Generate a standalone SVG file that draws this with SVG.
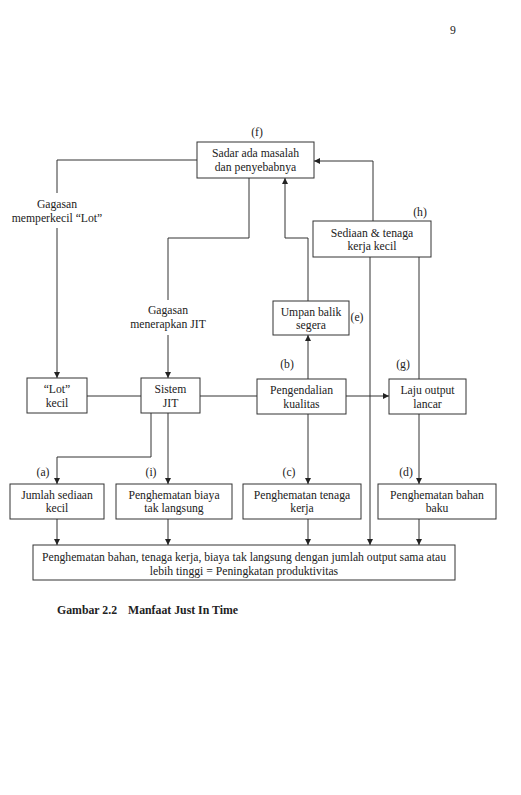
<svg xmlns="http://www.w3.org/2000/svg" width="521" height="795" viewBox="0 0 521 795">
<style>
text{font-family:"Liberation Serif","Times New Roman",serif;font-size:11.7px;fill:#222;text-anchor:middle}
.box{fill:#fff;stroke:#333;stroke-width:1}
.c{fill:none;stroke:#333;stroke-width:1}
.a{marker-end:url(#ar)}
.cap{font-weight:bold;font-size:11.8px;text-anchor:start}
</style>
<defs>
<marker id="ar" markerUnits="userSpaceOnUse" markerWidth="8" markerHeight="8" refX="6" refY="3" orient="auto">
<path d="M0,0 L6,3 L0,6 Z" fill="#222"/>
</marker>
</defs>
<rect width="521" height="795" fill="#fff"/>
<text x="453" y="34">9</text>
<g id="connectors">
<polyline class="c" points="197,160 57,160 57,193"/>
<polyline class="c a" points="57,228 57,378"/>
<polyline class="c" points="249,178 249,238 168,238 168,300"/>
<polyline class="c a" points="168,335 168,378"/>
<line class="c" x1="87" y1="396" x2="141" y2="396"/>
<line class="c" x1="200" y1="396" x2="257" y2="396"/>
<line class="c a" x1="346" y1="396" x2="389" y2="396"/>
<line class="c a" x1="308" y1="379" x2="308" y2="335"/>
<polyline class="c a" points="308,301 308,238 285,238 285,178"/>
<polyline class="c a" points="373,221 373,161 314,161"/>
<line class="c" x1="419" y1="257" x2="419" y2="379"/>
<line class="c a" x1="370" y1="257" x2="370" y2="545"/>
<line class="c a" x1="419" y1="414" x2="419" y2="484"/>
<line class="c a" x1="308" y1="414" x2="308" y2="484"/>
<polyline class="c a" points="151,413 151,457 57,457 57,484"/>
<line class="c a" x1="168" y1="413" x2="168" y2="484"/>
<line class="c a" x1="57" y1="519" x2="57" y2="545"/>
<line class="c a" x1="168" y1="519" x2="168" y2="545"/>
<line class="c a" x1="308" y1="519" x2="308" y2="545"/>
<line class="c a" x1="419" y1="519" x2="419" y2="545"/>
</g>
<g id="label-lot"><text x="57" y="208">Gagasan</text><text x="57" y="222">memperkecil “Lot”</text></g>
<g id="label-jit"><text x="168" y="314">Gagasan</text><text x="168" y="328">menerapkan JIT</text></g>
<g id="sadar"><text x="257" y="136">(f)</text><rect class="box" x="197" y="142" width="117" height="36"/><text x="255.5" y="157">Sadar ada masalah</text><text x="255.5" y="171">dan penyebabnya</text></g>
<g id="sediaan"><text x="420" y="216">(h)</text><rect class="box" x="313" y="221" width="118" height="36"/><text x="372" y="237">Sediaan &amp; tenaga</text><text x="372" y="250">kerja kecil</text></g>
<g id="umpan"><rect class="box" x="273" y="301" width="76" height="34"/><text x="311" y="316">Umpan balik</text><text x="311" y="329">segera</text><text x="357" y="321">(e)</text></g>
<g id="lot"><rect class="box" x="27" y="378" width="60" height="35"/><text x="57" y="393">“Lot”</text><text x="57" y="407">kecil</text></g>
<g id="sistem"><rect class="box" x="141" y="378" width="59" height="35"/><text x="170.5" y="393">Sistem</text><text x="170.5" y="407">JIT</text></g>
<g id="pengendalian"><text x="287" y="368">(b)</text><rect class="box" x="257" y="379" width="89" height="35"/><text x="301.5" y="394">Pengendalian</text><text x="301.5" y="408">kualitas</text></g>
<g id="laju"><text x="403" y="368">(g)</text><rect class="box" x="389" y="379" width="77" height="35"/><text x="427.5" y="394">Laju output</text><text x="427.5" y="408">lancar</text></g>
<g id="jumlah"><text x="43" y="476">(a)</text><rect class="box" x="10" y="484" width="94" height="35"/><text x="57" y="499">Jumlah sediaan</text><text x="57" y="512">kecil</text></g>
<g id="biaya"><text x="151" y="476">(i)</text><rect class="box" x="116" y="484" width="116" height="35"/><text x="174" y="499">Penghematan biaya</text><text x="174" y="512">tak langsung</text></g>
<g id="tenaga"><text x="289" y="476">(c)</text><rect class="box" x="243" y="484" width="118" height="35"/><text x="302" y="499">Penghematan tenaga</text><text x="302" y="512">kerja</text></g>
<g id="bahan"><text x="406" y="476">(d)</text><rect class="box" x="378" y="484" width="118" height="35"/><text x="437" y="499">Penghematan bahan</text><text x="437" y="512">baku</text></g>
<g id="final"><rect class="box" x="33" y="545" width="422" height="35"/><text x="244" y="561">Penghematan bahan, tenaga kerja, biaya tak langsung dengan jumlah output sama atau</text><text x="244" y="575">lebih tinggi = Peningkatan produktivitas</text></g>
<text class="cap" x="57" y="614">Gambar 2.2</text>
<text class="cap" x="128" y="614">Manfaat Just In Time</text>
</svg>
